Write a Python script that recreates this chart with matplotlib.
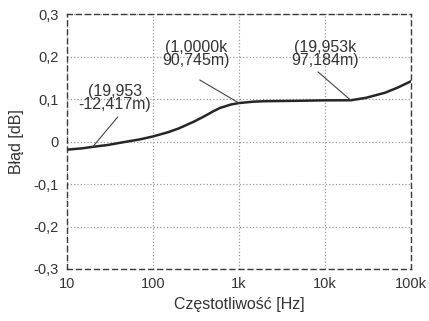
import numpy as np
import matplotlib
matplotlib.use("Agg")
import matplotlib.pyplot as plt
from matplotlib.ticker import FixedLocator, FixedFormatter

plt.rcParams['font.family'] = ['Liberation Sans', 'DejaVu Sans']

# %% data
freq = [10, 15, 20, 30, 50, 70, 100, 150, 200, 300, 400, 500, 600, 800,
        1000, 1500, 2000, 5000, 10000, 19953, 30000, 50000, 70000, 100000]
err = [-0.019, -0.016, -0.0124, -0.008, 0.0, 0.005, 0.012, 0.022, 0.031,
       0.047, 0.060, 0.071, 0.079, 0.087, 0.0907, 0.094, 0.095, 0.096,
       0.097, 0.0972, 0.103, 0.115, 0.127, 0.142]

xticks = [10, 100, 1000, 10000, 100000]
xlabels = ['10', '100', '1k', '10k', '100k']
yticks = [-0.3, -0.2, -0.1, 0, 0.1, 0.2, 0.3]
ylabels = ['-0,3', '-0,2', '-0,1', '0', '0,1', '0,2', '0,3']

# data tips: point, label, label anchor, leader start
tip_x = [19.953, 1000.0, 19953.0]
tip_y = [-0.012417, 0.090745, 0.097184]
tip_txt = ['(19,953\n-12,417m)', '(1,0000k\n90,745m)', '(19,953k\n97,184m)']
tip_lab = [(36, 0.069), (320, 0.173), (10000, 0.173)]
tip_lead = [(39, 0.058), (350, 0.145), (8300, 0.164)]

# %% plot
fig = plt.figure(figsize=(4.29, 3.21), dpi=100)
ax = fig.add_axes([0.156, 0.162, 0.802, 0.794])

ax.semilogx(freq, err, color='#262626', lw=1.8, solid_capstyle='round',
            solid_joinstyle='round')
ax.set_xlim(10, 100000)
ax.set_ylim(-0.3, 0.3)

ax.xaxis.set_major_locator(FixedLocator(xticks))
ax.xaxis.set_major_formatter(FixedFormatter(xlabels))
ax.xaxis.set_minor_locator(FixedLocator([]))
ax.yaxis.set_major_locator(FixedLocator(yticks))
ax.yaxis.set_major_formatter(FixedFormatter(ylabels))
ax.tick_params(axis='y', length=0, labelsize=10.5, colors='#333333', pad=6)
ax.tick_params(axis='x', length=0, labelsize=10.5, colors='#333333', pad=6)

ax.grid(True, ls=':', color='#999999', lw=0.9)
for s in ax.spines.values():
    s.set_linestyle((0, (3.5, 3)))
    s.set_color('#3a3a3a')
    s.set_linewidth(1.0)

ax.set_xlabel('Częstotliwość [Hz]', fontsize=11.5, color='#333333', labelpad=4)
ax.set_ylabel('Błąd [dB]', fontsize=11.5, color='#333333', labelpad=7)

for px, py, txt, (lx, ly), (sx, sy) in zip(tip_x, tip_y, tip_txt, tip_lab, tip_lead):
    ax.text(lx, ly, txt, ha='center', va='bottom', fontsize=11.5,
            color='#333333', linespacing=0.85)
    ax.annotate('', xy=(px, py), xytext=(sx, sy),
                arrowprops=dict(arrowstyle='-', color='#444444', lw=0.8,
                                shrinkA=0, shrinkB=0))

fig.savefig('out.png', dpi=100)
